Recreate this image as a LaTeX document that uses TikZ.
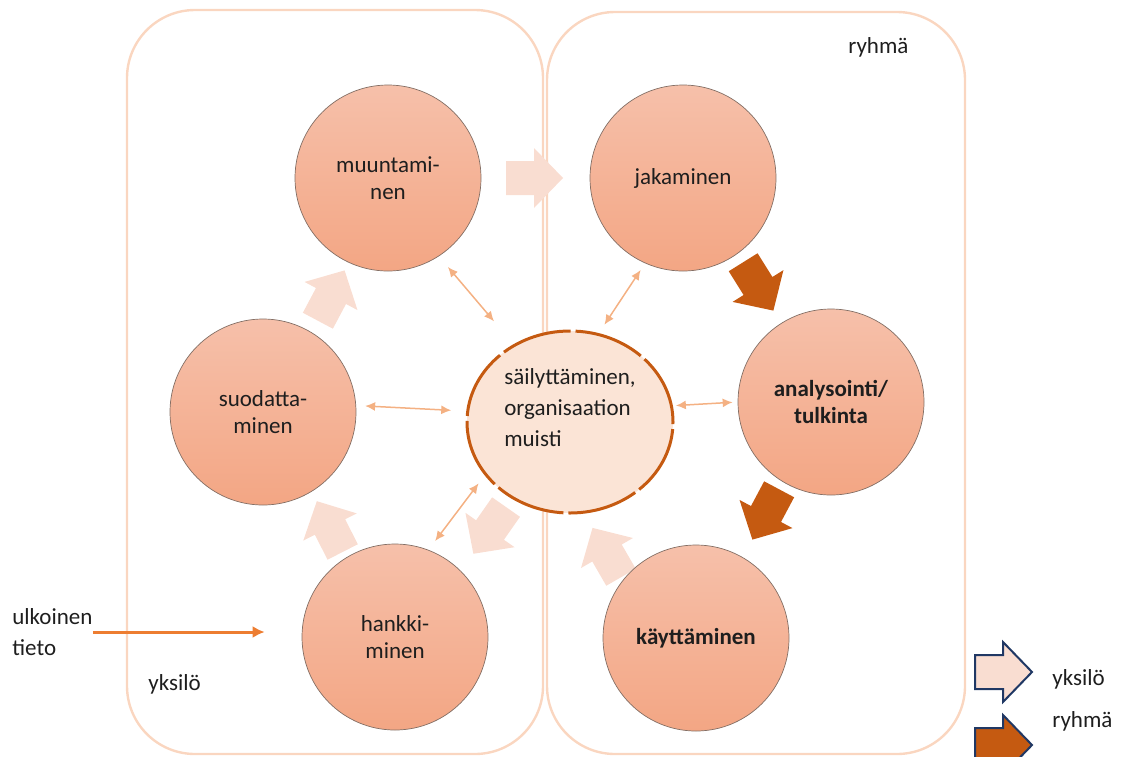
\documentclass[tikz,border=0pt]{standalone}
\usepackage{fontspec}
\setmainfont{Carlito}
\usetikzlibrary{arrows.meta,shapes.geometric}

\definecolor{boxline}{RGB}{250,214,192}
\definecolor{circtop}{RGB}{246,192,170}
\definecolor{circbot}{RGB}{243,166,132}
\definecolor{circrim}{RGB}{130,110,100}
\definecolor{memfill}{RGB}{251,228,214}
\definecolor{rust}{RGB}{197,90,17}
\definecolor{pale}{RGB}{249,221,209}
\definecolor{linkcol}{RGB}{244,177,131}
\definecolor{extcol}{RGB}{237,125,49}
\definecolor{navy}{RGB}{32,56,100}
\definecolor{txt}{RGB}{30,30,30}

\tikzset{
  fatarrow/.pic={\path[pic actions] (-28,-17) -- (0,-17) -- (0,-30) -- (29,0) -- (0,30) -- (0,17) -- (-28,17) -- cycle;}
}

\begin{document}
\begin{tikzpicture}[x=0.5pt,y=-0.5pt,
  frame/.style={draw=boxline, line width=1.2pt, rounded corners=34pt},
  stage/.style={circle, minimum size=93pt, inner sep=0pt, draw=circrim, line width=0.35pt,
    top color=circtop, bottom color=circbot, align=center, text=txt,
    font=\fontsize{11.5}{13.5}\selectfont},
  memory/.style={ellipse, minimum width=103pt, minimum height=91pt, inner sep=0pt,
    fill=memfill, draw=rust, line width=1.5pt, dash pattern=on 35.5pt off 2.5pt},
  lbl/.style={inner sep=0pt, text=txt, font=\fontsize{11.5}{15.5}\selectfont},
  link/.style={draw=linkcol, line width=0.75pt, {Latex[length=5pt,width=4.5pt]}-{Latex[length=5pt,width=4.5pt]}},
  extarrow/.style={draw=extcol, line width=1.5pt, -{Latex[length=6pt,width=6pt]}},
  indiv/.style={fill=pale},
  group/.style={fill=rust}
]
\useasboundingbox (0,0) rectangle (1129,756);

% kehykset
\draw[frame] (127,10) rectangle (543,754);
\draw[frame] (547,12) rectangle (965,754);
\node[lbl, anchor=base west] (yks) at (148,690) {yksilö};
\node[lbl, anchor=base west] (ryh) at (848,53) {ryhmä};

% kierron nuolet
\pic[indiv, rotate=62] at (331,296) {fatarrow};
\pic[indiv] at (534,178) {fatarrow};
\pic[group, rotate=-58] at (758,286) {fatarrow};
\pic[group, rotate=-118] at (766,514) {fatarrow};
\pic[indiv, rotate=120] at (607,553) {fatarrow};
\pic[indiv, rotate=-125] at (490,530) {fatarrow};
\pic[indiv, rotate=117] at (330,527) {fatarrow};

% vaiheet
\node[stage] (muu) at (388,178) {muuntami-\\nen};
\node[stage] (jak) at (683,178) {jakaminen};
\node[stage] (suo) at (263,412) {suodatta-\\minen};
\node[stage] (ana) at (831,402) {\textbf{analysointi/}\\\textbf{tulkinta}};
\node[stage] (han) at (395,637) {hankki-\\minen};
\node[stage] (kay) at (696,638) {\textbf{käyttäminen}};

\node[memory] (mem) at (570,422) {};
\node[lbl, align=left] (memtxt) at ([yshift=7pt]mem.center) {säilyttäminen,\\organisaation\\muisti};

% yhteydet muistiin
\draw[link, shorten <=7pt, shorten >=15pt] (muu.-57) -- (mem.126);
\draw[link, shorten <=4pt, shorten >=5pt] (jak.-114) -- (mem.72);
\draw[link, shorten <=4.5pt, shorten >=7.5pt] (suo.4) -- (mem.174);
\draw[link, shorten <=1.5pt, shorten >=2.5pt] (mem.9) -- (ana.180);
\draw[link, shorten <=5pt, shorten >=5.5pt] (mem.212) -- (han.69);

% ulkoinen tieto
\node[lbl, align=left, anchor=west] (ulk) at (12,632) {ulkoinen\\tieto};
\draw[extarrow, shorten >=18.5pt] (ulk.east) -- (ulk.east -| han.west);

% selite
\pic[indiv, draw=navy, line width=1pt] at (1003,672) {fatarrow};
\pic[group, draw=navy, line width=1pt] at (1003,745) {fatarrow};
\node[lbl, anchor=base west] (selyks) at (1052,685) {yksilö};
\node[lbl, anchor=base west] (selryh) at (1052,727) {ryhmä};
\end{tikzpicture}
\end{document}
